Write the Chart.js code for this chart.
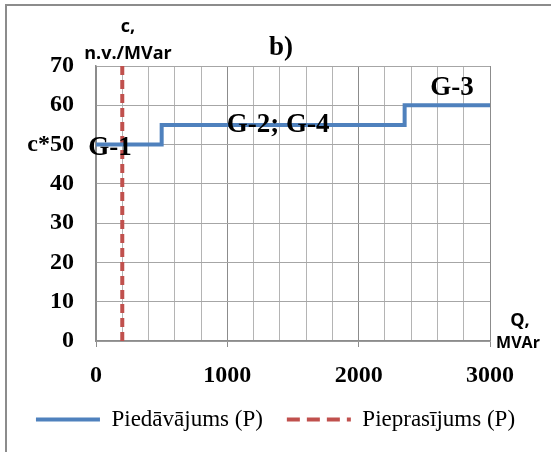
<!DOCTYPE html>
<html>
<head>
<meta charset="utf-8">
<script src="https://cdn.jsdelivr.net/npm/chart.js@4"></script>
<style>
  html, body { margin: 0; padding: 0; background: #fff; overflow: hidden; }
  #wrap { position: relative; width: 551px; height: 452px; }
  #frame { position: absolute; left: 5px; top: 4px; right: -10px; bottom: -10px;
           border-top: 2px solid #8c8c8c; border-left: 2px solid #8c8c8c; }
  canvas { position: absolute; left: 0; top: 0; }
</style>
</head>
<body>
<div id="wrap">
  <div id="frame"></div>
  <canvas id="myChart" width="551" height="452"></canvas>
</div>
<script>
"use strict";

// ===== data =====
const seriesNames = ["Piedāvājums (P)", "Pieprasījums (P)"];

// supply curve (step)
const supplyQ = [0, 500, 500, 2350, 2350, 3000];
const supplyC = [50, 50, 55, 55, 60, 60];

// demand (vertical)
const demandQ = [200, 200];
const demandC = [0, 70];

// generator labels
const groupLabels = ["G-1", "G-2; G-4", "G-3"];
const groupQ = [107, 1386, 2711];
const groupC = [47.3, 53.3, 62.7];

const xTickLabels = [0, 1000, 2000, 3000];

const toPoints = (xs, ys) => xs.map((q, i) => ({ x: q, y: ys[i] }));

// text on top of the chart
const textPlugin = {
  id: "texts",
  afterDraw(chart) {
    const { ctx, scales: { x, y } } = chart;
    ctx.save();
    ctx.fillStyle = "#000";
    ctx.textAlign = "center";
    ctx.textBaseline = "alphabetic";
    ctx.font = 'bold 27px "Liberation Serif"';
    groupLabels.forEach((t, i) => {
      ctx.fillText(t, x.getPixelForValue(groupQ[i]), y.getPixelForValue(groupC[i]));
    });
    ctx.fillText("b)", 281, 55);
    ctx.font = 'bold 18px "Open Sans"';
    ctx.fillText("c,", 128, 32);
    ctx.fillText("n.v./MVar", 128, 59);
    ctx.font = 'bold 18px "Open Sans"';
    ctx.fillText("Q,", 520, 326);
    ctx.font = 'bold 16px "Open Sans"';
    ctx.fillText("MVAr", 518, 348);
    ctx.restore();
  }
};

const ctx = document.getElementById("myChart").getContext("2d");
new Chart(ctx, {
  type: "line",
  data: {
    datasets: [
      {
        label: seriesNames[0],
        data: toPoints(supplyQ, supplyC),
        borderColor: "#4f81bd",
        backgroundColor: "#4f81bd",
        borderWidth: 4,
        pointRadius: 0,
        fill: false,
        tension: 0
      },
      {
        label: seriesNames[1],
        data: toPoints(demandQ, demandC),
        borderColor: "#c0504d",
        backgroundColor: "#c0504d",
        borderWidth: 4,
        borderDash: [9, 5],
        pointRadius: 0,
        fill: false,
        tension: 0
      }
    ]
  },
  options: {
    responsive: false,
    animation: false,
    layout: { padding: { top: 66, left: 0, right: 0, bottom: 11 } },
    plugins: {
      tooltip: { enabled: false },
      legend: {
        display: true,
        position: "bottom",
        labels: {
          usePointStyle: true,
          pointStyle: "line",
          pointStyleWidth: 64,
          padding: 24,
          color: "#000",
          font: { family: '"Liberation Serif"', size: 23 },
          generateLabels: chart => {
            const items = Chart.defaults.plugins.legend.labels.generateLabels(chart);
            items.forEach(it => {
              const ds = chart.data.datasets[it.datasetIndex];
              it.lineDash = ds.borderDash ? [13, 7] : [];
              it.lineWidth = ds.borderWidth;
              it.strokeStyle = ds.borderColor;
              it.pointStyle = "line";
            });
            return items;
          }
        }
      }
    },
    scales: {
      x: {
        type: "linear",
        min: 0,
        max: 3000,
        afterFit: s => { s.height = 43; },
        ticks: {
          stepSize: 200,
          autoSkip: false,
          maxRotation: 0,
          padding: 14,
          color: "#000",
          font: { family: '"Liberation Serif"', size: 24, weight: "bold" },
          callback: v => (xTickLabels.includes(v) ? String(v) : "")
        },
        grid: {
          color: c => (c.tick && c.tick.value % 1000 === 0 ? "#8c8c8c" : "#b4b4b4"),
          tickColor: c => (c.tick && c.tick.value % 1000 === 0 ? "#8c8c8c" : "rgba(0,0,0,0)"),
          tickLength: 6,
          lineWidth: 1
        },
        border: { color: "#8c8c8c", width: 1.5 }
      },
      y: {
        min: 0,
        max: 70,
        afterFit: s => { s.width = 96; },
        ticks: {
          stepSize: 10,
          padding: 22,
          color: "#000",
          font: { family: '"Liberation Serif"', size: 24, weight: "bold" },
          callback: v => (v === 50 ? "c*50" : String(v))
        },
        grid: { color: "#a6a6a6", drawTicks: false, lineWidth: 1 },
        border: { color: "#8c8c8c", width: 1.5 }
      },
      yRight: {
        position: "right",
        display: true,
        afterFit: s => { s.width = 61; },
        ticks: { display: false },
        grid: { display: false },
        border: { display: false }
      }
    }
  },
  plugins: [textPlugin]
});
</script>
</body>
</html>
